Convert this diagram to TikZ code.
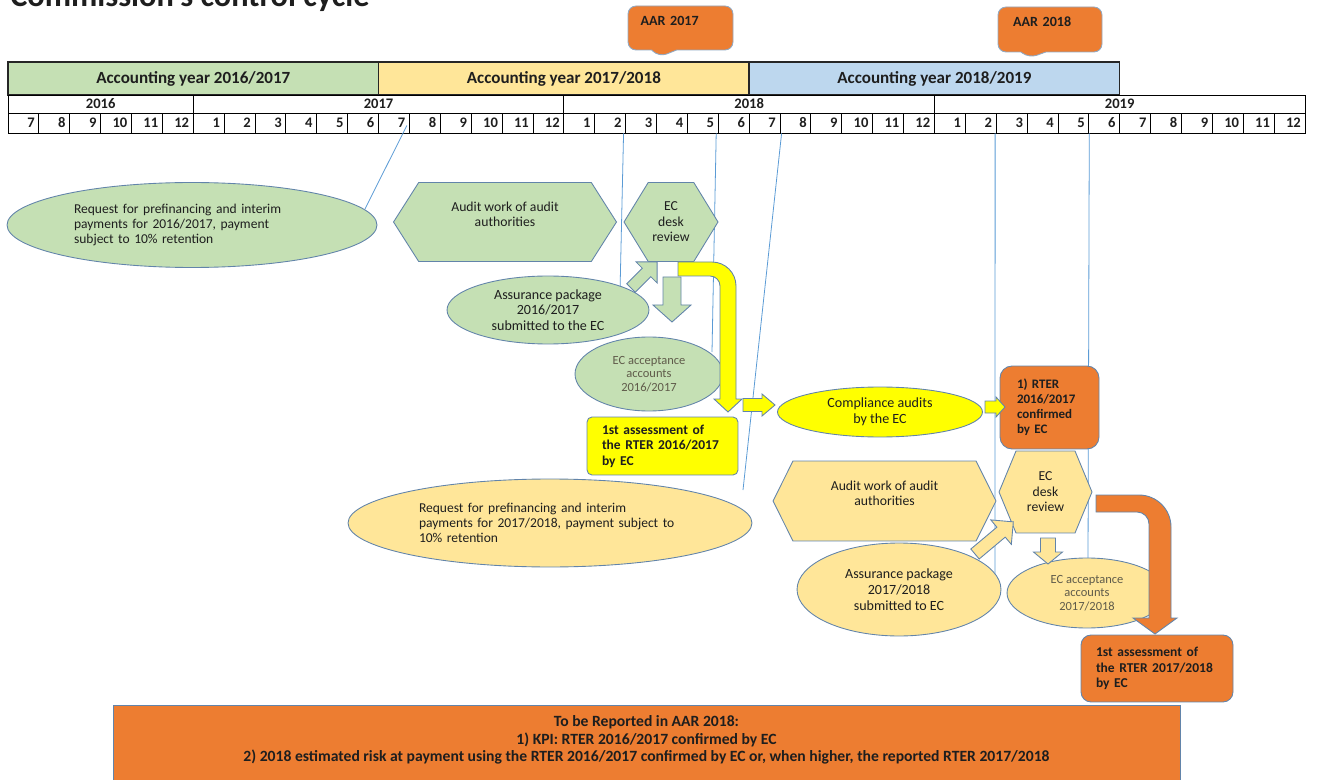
\documentclass[tikz,border=0pt]{standalone}
\usepackage{fontspec}
\setmainfont{Carlito}
\usetikzlibrary{shapes.geometric,shapes.symbols,shapes.callouts}
\definecolor{Leaf}{HTML}{C5E0B4}
\definecolor{Sand}{HTML}{FFE699}
\definecolor{Sky}{HTML}{BDD7EE}
\definecolor{Flame}{HTML}{ED7D31}
\definecolor{Lemon}{HTML}{FFFF00}
\definecolor{Edge}{HTML}{6284AA}
\definecolor{Guide}{HTML}{5B9BD5}
\definecolor{Ink}{HTML}{1E1E1E}
\definecolor{Dim}{HTML}{5F5B4A}
\tikzset{
  pics/fatarrow/.style args={#1/#2/#3/#4}{code={
    \path[pic actions] (0,-#2) -- (#1-#4,-#2) -- (#1-#4,-#3) -- (#1,0) -- (#1-#4,#3) -- (#1-#4,#2) -- (0,#2) -- cycle;
  }}
}
\begin{document}
\begin{tikzpicture}[x=0.02cm,y=-0.02cm,
    every node/.style={text=Ink},
    aycell/.style={draw=black!85,line width=.9pt,minimum width=7.412cm,minimum height=.66cm,font=\fontsize{9.7}{11}\selectfont\bfseries},
    yrcell/.style={draw=black,line width=.5pt,minimum height=.36cm,inner sep=0pt,font=\fontsize{8.3}{9}\selectfont\bfseries},
    mcell/.style={draw=black,line width=.5pt,minimum width=.6176cm,minimum height=.4cm,inner xsep=2pt,inner ysep=0pt,text width=.45cm,align=right,font=\fontsize{8.3}{9}\selectfont\bfseries},
    guide/.style={draw=Guide,line width=.45pt},
    oval/.style={ellipse,draw=Edge,line width=.5pt,inner sep=1pt,align=center,font=\fontsize{8}{9}\selectfont},
    hexa/.style={signal,signal to=west and east,draw=Edge,line width=.5pt,inner sep=1pt,align=center,font=\fontsize{7.8}{8.8}\selectfont},
    tag/.style={draw=Edge,line width=.5pt,align=left,font=\fontsize{7.7}{8.8}\selectfont\bfseries},
    flag/.style={rectangle callout,fill=Flame,draw=Edge!70,line width=.5pt,rounded corners=.16cm,callout pointer width=.5cm,align=left,font=\fontsize{8}{8.6}\selectfont\bfseries},
    fat/.style={draw=Edge,line width=.5pt,fill=#1}
  ]
  \useasboundingbox (0,0) rectangle (1318,780);
  \node[anchor=base west,inner sep=0pt,font=\fontsize{18.4}{20}\selectfont\bfseries] (title) at (10,7) {Commission’s control cycle};

  \foreach \a/\b/\col/\cx in {2016/2017/Leaf/193.29,2017/2018/Sand/563.86,2018/2019/Sky/934.43}
    \node[aycell,fill=\col] (ay\a) at (\cx,78.5) {Accounting year \a/\b};
  \foreach \yr/\cx/\w in {2016/100.64/3.706,2017/378.57/7.412,2018/749.14/7.412,2019/1119.71/7.412}
    \node[yrcell,minimum width=\w cm] (y\yr) at (\cx,104) {\yr};
  \foreach \i in {1,...,42}{
    \pgfmathtruncatemacro{\mon}{mod(\i+5,12)+1}
    \node[mcell] (m\i) at ({8+(\i-0.5)*30.881},123) {\mon};
  }

  \node[flag,minimum width=2.1cm,minimum height=.88cm,text width=1.6cm,callout absolute pointer={(659,57)}] (aar17) at (680.5,28) {AAR 2017\\ \mbox{}};
  \node[flag,minimum width=2.08cm,minimum height=.9cm,text width=1.48cm,callout absolute pointer={(1029,58)}] (aar18) at (1050,29.5) {AAR 2018\\ \mbox{}};

  \coordinate (g1) at (365,209);
  \coordinate (g2) at (620,292);
  \coordinate (g3) at (712,352);
  \coordinate (g4) at (743,490);
  \coordinate (g5) at (995,580);
  \coordinate (g6) at (1088,562);
  \draw[guide] ([shift={(-.06cm,.16cm)}]m13.south east) -- (g1);
  \draw[guide] ([xshift=-.05cm]m20.south east) -- (g2);
  \draw[guide] ([xshift=-.05cm]m23.south east) -- (g3);
  \draw[guide] ([xshift=.04cm]m26.south west) -- (g4);
  \draw[guide] ([xshift=-.03cm]m32.south east) -- (g5);
  \draw[guide] (m35.south east) -- (g6);

  \node[oval,fill=Leaf,minimum width=7.4cm,minimum height=1.7cm,text width=4.72cm,align=left,font=\fontsize{7.7}{8.6}\selectfont] (reqA) at (192,225) {Request for prefinancing and interim\\payments for 2016/2017,  payment\\subject to 10\% retention};
  \node[hexa,fill=Leaf,minimum width=4.46cm,minimum height=1.58cm,signal pointer angle=115] (auditA) at (505,222) {Audit work of audit\\authorities\\ \mbox{}};
  \node[hexa,fill=Leaf,minimum width=1.88cm,minimum height=1.58cm,signal pointer angle=117] (deskA) at (671,222) {EC\\desk\\review};
  \node[oval,fill=Leaf,minimum width=4.04cm,minimum height=1.36cm] (pkgA) at (548,310) {Assurance package\\2016/2017\\submitted to the EC};
  \node[oval,fill=Leaf,minimum width=2.96cm,minimum height=1.48cm,text=Dim,font=\fontsize{7.1}{7.6}\selectfont] (accA) at (649,374) {EC acceptance\\accounts\\2016/2017};
  \node[tag,fill=Lemon,rounded corners=.1cm,minimum width=3.02cm,minimum height=1.16cm,text width=2.42cm] (assA) at (662.5,446) {1st assessment of\\the RTER 2016/2017\\by EC};
  \node[oval,fill=Lemon,minimum width=4.1cm,minimum height=1cm] (compl) at (880,412) {Compliance audits\\by the EC};
  \node[tag,fill=Flame,rounded corners=.24cm,minimum width=1.98cm,minimum height=1.66cm,text width=1.3cm,font=\fontsize{7.4}{8.6}\selectfont\bfseries] (rterA) at (1049.5,407.5) {1) RTER\\2016/2017\\confirmed\\by  EC};

  \node[oval,fill=Sand,minimum width=8.08cm,minimum height=1.76cm,text width=5.24cm,align=left,font=\fontsize{7.7}{8.6}\selectfont] (reqB) at (550,523) {Request for prefinancing and interim\\payments for 2017/2018,  payment subject to\\10\% retention};
  \node[hexa,fill=Sand,minimum width=4.46cm,minimum height=1.6cm,signal pointer angle=127] (auditB) at (884.5,501) {Audit work of audit\\authorities\\ \mbox{}};
  \node[hexa,fill=Sand,minimum width=1.86cm,minimum height=1.64cm,signal pointer angle=135] (deskB) at (1045.5,492) {EC\\desk\\review};
  \node[oval,fill=Sand,minimum width=4.08cm,minimum height=1.86cm] (pkgB) at (899,589.5) {Assurance package\\2017/2018\\submitted to EC};
  \node[oval,fill=Sand,minimum width=3.2cm,minimum height=1.4cm,text=Dim,font=\fontsize{7.1}{7.6}\selectfont] (accB) at (1087,593) {EC acceptance\\accounts\\2017/2018};
  \node[tag,fill=Flame,rounded corners=.2cm,minimum width=3.04cm,minimum height=1.34cm,text width=2.44cm] (assB) at (1157,668.5) {1st assessment of\\the RTER  2017/2018\\by EC};

  \node[draw=Edge,fill=Flame,minimum width=21.34cm,minimum height=1.7cm,align=center,font=\fontsize{8.9}{10.2}\selectfont\bfseries] (report) at (646.5,747.5) {To be Reported in AAR 2018:\\1) KPI: RTER 2016/2017 confirmed by EC\\2) 2018 estimated risk at payment using the RTER 2016/2017 confirmed by EC or, when higher, the reported RTER 2017/2018\\ \mbox{}};

  \pic[fat=Leaf,rotate=45] at (631,288) {fatarrow=37/6/15/15};
  \pic[fat=Leaf,rotate=-90] at (672,277) {fatarrow=45/9/19/17};
  \pic[fat=Lemon] at (743,405) {fatarrow=32/6.5/11/13};
  \pic[fat=Lemon] at (985,407) {fatarrow=20/6/10/9};
  \pic[fat=Sand,rotate=40] at (975,554) {fatarrow=50/6.5/16/16};
  \pic[fat=Sand,rotate=-90] at (1048,538) {fatarrow=26/7.5/14.5/12};
  \path[fat=Lemon] (678,262) [rounded corners=.48cm] -- (736,262) -- (736,330) [sharp corners] -- (736,399) -- (742,399) -- (728,412) -- (714,399) -- (720,399) -- (720,300) [rounded corners=.2cm] -- (720,276) -- (690,276) [sharp corners] -- (678,276) -- cycle;
  \path[fat=Flame] (1096,495) [rounded corners=.64cm] -- (1171,495) -- (1171,560) [sharp corners] -- (1171,618) -- (1177,618) -- (1155,634) -- (1133,618) -- (1149,618) -- (1149,540) [rounded corners=.24cm] -- (1149,512) -- (1120,512) [sharp corners] -- (1096,512) -- cycle;
\end{tikzpicture}
\end{document}
